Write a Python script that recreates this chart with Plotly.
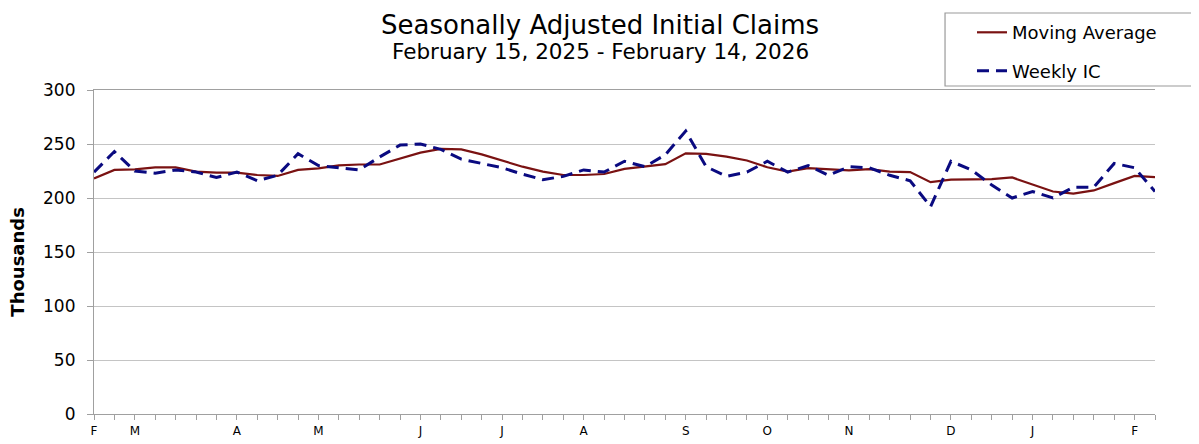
import plotly.graph_objects as go

# Week index 0..52 : weeks ending Feb 15, 2025 ... Feb 14, 2026
weeks = list(range(53))

weekly_ic = [224, 243, 225, 223, 226, 224, 219, 224, 216, 221,
             241, 230, 228, 226, 238, 249, 250, 245, 236, 232,
             228, 222, 217, 220, 226, 224, 234, 229, 240, 262,
             229, 220, 224, 234, 224, 230, 221, 229, 228, 221,
             216, 192, 234, 226, 212, 200, 206, 200, 210, 210,
             232, 228, 206]

moving_avg = [218, 226, 226.5, 228.4, 228.4, 224.4, 223.5, 223.5, 221.3, 220.4,
              226, 227.5, 230.2, 231, 231, 236.7, 242, 245.4, 245, 240.4,
              234.6, 229, 224.4, 221.3, 221.3, 222.2, 227, 229, 231.3, 241.4,
              240.8, 238.3, 234.7, 228.5, 224.5, 227.6, 226.7, 225.5, 226.7, 224.5,
              224, 214.7, 217, 217.5, 217.5, 219, 212.3, 206, 204, 207,
              213.8, 220.5, 219.3]

month_tick_idx = [0, 2, 7, 11, 16, 20, 24, 29, 33, 37, 42, 46, 51]
month_tick_txt = ["F", "M", "A", "M", "J", "J", "A", "S", "O", "N", "D", "J", "F"]

FONT = "DejaVu Sans, Liberation Sans, Arial, sans-serif"

fig = go.Figure()
fig.add_trace(go.Scatter(
    x=weeks, y=moving_avg, mode="lines", name="Moving Average",
    line=dict(color="#7a1212", width=2.2), legendgroup="a"))
fig.add_trace(go.Scatter(
    x=weeks, y=weekly_ic, mode="lines", name="Weekly IC",
    line=dict(color="#0a0a80", width=3, dash="12px,7px"), legendgroup="b"))

# page body has an 8px margin, so the figure is sized 8px smaller
fig.update_layout(
    width=1191, height=436,
    paper_bgcolor="white", plot_bgcolor="white",
    margin=dict(l=86, r=44, t=82, b=30, autoexpand=False),
    font=dict(family=FONT, color="black"),
    showlegend=True,
    legend=dict(xref="container", yref="container",
                x=0.8094, y=0.986, xanchor="left", yanchor="top",
                bgcolor="rgba(0,0,0,0)", borderwidth=0,
                font=dict(size=18, family=FONT),
                traceorder="grouped", tracegroupgap=12,
                itemwidth=30),
    annotations=[
        dict(text="Seasonally Adjusted Initial Claims", x=0.477, y=1.2006,
             xref="paper", yref="paper", showarrow=False,
             font=dict(size=26, family=FONT), xanchor="center", yanchor="middle"),
        dict(text="February 15, 2025 - February 14, 2026", x=0.477, y=1.12,
             xref="paper", yref="paper", showarrow=False,
             font=dict(size=21.5, family=FONT), xanchor="center", yanchor="middle"),
        dict(text="<b>Thousands</b>", x=-0.0717, y=0.47,
             xref="paper", yref="paper", showarrow=False, textangle=-90,
             font=dict(size=18, family=FONT), xanchor="center", yanchor="middle"),
    ],
    shapes=[
        dict(type="rect", xref="paper", yref="paper",
             x0=0.8021, x1=1.0349, y0=1.0123, y1=1.2377,
             line=dict(color="#9a9a9a", width=1.2), fillcolor="rgba(0,0,0,0)"),
    ],
)

fig.update_xaxes(
    range=[0, 52], tickmode="array", tickvals=month_tick_idx, ticktext=month_tick_txt,
    ticks="outside", ticklen=5, tickcolor="#a0a0a0",
    showline=True, linecolor="#a0a0a0", linewidth=1.2, mirror=True,
    showgrid=False, zeroline=False, automargin=False,
    tickfont=dict(size=12, family=FONT),
    minor=dict(tickmode="linear", tick0=0, dtick=1, ticks="outside",
               ticklen=5, tickcolor="#a0a0a0", showgrid=False),
)
fig.update_yaxes(
    range=[0, 300], dtick=50, ticks="outside", ticklen=6, tickcolor="#a0a0a0",
    showline=True, linecolor="#a0a0a0", linewidth=1.2,
    showgrid=True, gridcolor="#c4c4c4", gridwidth=1.2, zeroline=False,
    automargin=False, ticklabelstandoff=8,
    tickfont=dict(size=17, family=FONT),
)

fig.write_html("out.html")
